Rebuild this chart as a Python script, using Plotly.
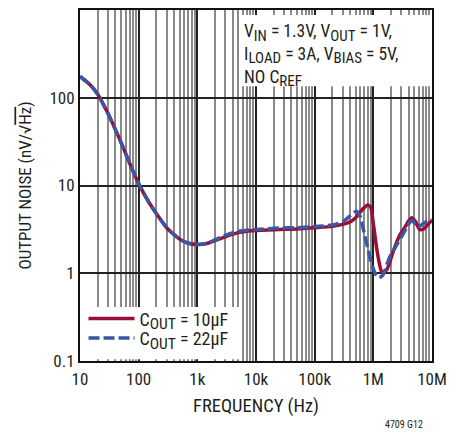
import plotly.graph_objects as go

# ---- data ----
freq_10u = [10, 15, 20, 30, 50, 70, 100, 150, 200, 300, 500, 700, 1000, 1500, 2000, 3000,
            5000, 8000, 10e3, 25e3, 50e3, 100e3, 200e3, 300e3, 400e3, 500e3, 600e3, 700e3,
            800e3, 900e3, 1.0e6, 1.13e6, 1.25e6, 1.4e6, 1.7e6, 2.2e6, 2.8e6, 3.5e6, 4.0e6,
            4.5e6, 5.2e6, 6.2e6, 7.2e6, 8.5e6, 10e6]
noise_10u = [175, 140, 110, 66, 31, 18, 10.5, 6.4, 4.8, 3.3, 2.45, 2.2, 2.13, 2.2, 2.35, 2.6,
             2.9, 3.05, 3.08, 3.15, 3.2, 3.3, 3.42, 3.6, 3.85, 4.3, 5.0, 5.6,
             6.0, 5.7, 3.7, 2.0, 1.35, 1.02, 1.1, 1.8, 2.7, 3.4, 3.95,
             4.3, 3.9, 3.14, 3.2, 3.6, 4.0]

freq_22u = [10, 15, 20, 30, 50, 70, 100, 150, 200, 300, 500, 700, 1000, 1500, 2000, 3000,
            5000, 8000, 10e3, 25e3, 50e3, 100e3, 200e3, 300e3, 400e3, 516e3, 600e3, 680e3,
            780e3, 870e3, 1.0e6, 1.12e6, 1.25e6, 1.45e6, 1.9e6, 2.5e6, 3.0e6, 3.6e6, 4.2e6,
            4.6e6, 5.3e6, 5.8e6, 6.8e6, 8.0e6, 10e6]
noise_22u = [175, 140, 110, 66, 31, 18, 10.5, 6.4, 4.8, 3.3, 2.45, 2.2, 2.13, 2.2, 2.4, 2.7,
             3.0, 3.12, 3.15, 3.28, 3.3, 3.4, 3.55, 3.85, 4.5, 5.1, 4.4, 3.1,
             2.1, 1.53, 1.12, 0.95, 0.89, 0.95, 1.53, 2.1, 2.6, 3.2, 3.83,
             4.0, 3.55, 3.4, 3.6, 3.85, 4.05]

x_tickvals = [10, 100, 1e3, 1e4, 1e5, 1e6, 1e7]
x_ticktext = ["10", "100", "1k", "10k", "100k", "1M", "10M"]
y_tickvals = [0.1, 1, 10, 100, 1000]
y_ticktext = ["0.1", "1", "10", "100", "1k"]

note_lines = ["V<sub>IN</sub> = 1.3V, V<sub>OUT</sub> = 1V,",
              "I<sub>LOAD</sub> = 3A, V<sub>BIAS</sub> = 5V,",
              "NO C<sub>REF</sub>"]

FONT = "Liberation Sans Narrow, Arial Narrow, Roboto Condensed, sans-serif"
TXT = "#231f20"
RED = "#9b0f34"
BLUE = "#3a56a5"


def big_sub(s, px=15.5):
    return s.replace("<sub>", "<sub><span style='font-size:%spx'>" % px).replace("</sub>", "</span></sub>")


fig = go.Figure()
fig.add_trace(go.Scatter(x=freq_10u, y=noise_10u, mode="lines",
                         line=dict(color=RED, width=3.5, shape="spline", smoothing=0.6),
                         name=big_sub("C<sub>OUT</sub> = 10µF"), legend="legend"))
fig.add_trace(go.Scatter(x=freq_22u, y=noise_22u, mode="lines",
                         line=dict(color=BLUE, width=3.5, dash="11px,4px", shape="spline", smoothing=0.6),
                         name=big_sub("C<sub>OUT</sub> = 22µF"), legend="legend2"))

axis_common = dict(type="log", showline=True, linecolor="#111", linewidth=2, mirror=True,
                   ticks="", tickfont=dict(family=FONT, size=17, color=TXT), automargin=False,
                   showgrid=True, gridcolor="#222", gridwidth=1.5, zeroline=False)

fig.update_xaxes(**axis_common, range=[1, 7], tickvals=x_tickvals, ticktext=x_ticktext,
                 ticklabelstandoff=2,
                 minor=dict(dtick="D1", showgrid=True, gridcolor="#8a8a8a", gridwidth=1.5, ticks=""),
                 title=dict(text="FREQUENCY (Hz)", font=dict(family=FONT, size=18.5, color=TXT), standoff=11))
fig.update_yaxes(**axis_common, range=[-1, 3], tickvals=y_tickvals, ticktext=y_ticktext,
                 title=dict(text="OUTPUT NOISE (nV/√<span style='text-decoration:overline'>Hz</span>)",
                            font=dict(family=FONT, size=17, color=TXT), standoff=13))

# white boxes behind the annotation and the legend
fig.add_shape(type="rect", xref="paper", yref="paper", x0=0.455, x1=0.995, y0=0.783, y1=0.986,
              fillcolor="white", line=dict(width=0), layer="above")
fig.add_shape(type="rect", xref="paper", yref="paper", x0=0.005, x1=0.46, y0=0.005, y1=0.154,
              fillcolor="white", line=dict(width=0), layer="above")

fig.add_annotation(xref="paper", yref="paper", x=0.459, y=0.975, xanchor="left", yanchor="top",
                   align="left", showarrow=False,
                   text="<br>".join(big_sub(t, 15) for t in note_lines),
                   font=dict(family=FONT, size=17.5, color=TXT))
fig.add_annotation(xref="paper", yref="paper", x=0.98, y=-0.16, xanchor="right", yanchor="top",
                   showarrow=False, text="4709 G12", font=dict(family=FONT, size=10, color=TXT))

leg_common = dict(xanchor="left", yanchor="middle", bgcolor="rgba(0,0,0,0)",
                  font=dict(family=FONT, size=18, color=TXT), itemwidth=46)
fig.update_layout(width=464, height=433, margin=dict(l=80, r=32, t=10, b=72, autoexpand=False),
                  paper_bgcolor="white", plot_bgcolor="white",
                  legend=dict(x=0.01, y=0.12, **leg_common),
                  legend2=dict(x=0.01, y=0.065, **leg_common),
                  showlegend=True)

fig.write_html("out.html")
